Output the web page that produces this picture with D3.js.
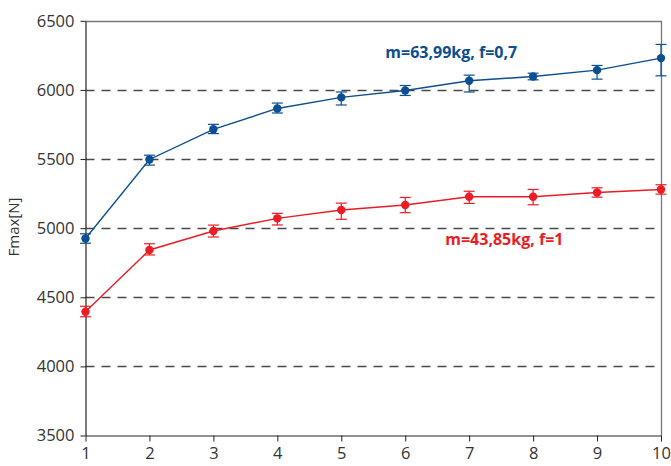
<!DOCTYPE html>
<html>
<head>
<meta charset="utf-8">
<script src="https://cdn.jsdelivr.net/npm/d3@7"></script>
<style>
  body { margin: 0; background: #fff; }
  svg { display: block; }
</style>
</head>
<body>
<div id="chart"></div>
<script>
const width = 671;
const height = 466;

const trials = [1, 2, 3, 4, 5, 6, 7, 8, 9, 10];
const yTicks = [3500, 4000, 4500, 5000, 5500, 6000, 6500];

// m=63,99kg, f=0,7
const blueValues = [4925, 5497, 5715, 5866, 5946, 5996, 6066, 6097, 6143, 6230];
const blueErrUp = [34, 31, 36, 39, 39, 36, 41, 24, 34, 99];
const blueErrDown = [34, 41, 31, 33, 55, 36, 81, 24, 65, 128];

// m=43,85kg, f=1
const redValues = [4395, 4842, 4979, 5071, 5131, 5167, 5227, 5227, 5258, 5280];
const redErrUp = [40, 45, 43, 36, 50, 55, 40, 53, 34, 34];
const redErrDown = [36, 36, 43, 48, 67, 55, 48, 58, 34, 34];

const blue = '#0c4e92';
const red = '#ec1c24';
const font = '"Open Sans", "Noto Sans", sans-serif';

const margin = { top: 20.8, right: 10, bottom: 30.5, left: 85.5 };

const x = d3.scaleLinear().domain([1, 10]).range([margin.left, width - margin.right]);
const y = d3.scaleLinear().domain([3500, 6500]).range([height - margin.bottom, margin.top]);

const svg = d3.select('#chart').append('svg')
  .attr('width', width)
  .attr('height', height);

// dashed gridlines
svg.append('g')
  .selectAll('line')
  .data(yTicks.filter(d => d > 3500 && d < 6500))
  .join('line')
  .attr('x1', x(1))
  .attr('x2', x(10))
  .attr('y1', d => Math.round(y(d)) + 0.5)
  .attr('y2', d => Math.round(y(d)) + 0.5)
  .attr('stroke', '#484848')
  .attr('stroke-width', 1.5)
  .attr('stroke-dasharray', '9,7');

// top and right frame
svg.append('path')
  .attr('d', `M${x(1)},${Math.round(y(6500)) + 0.5}H${Math.round(x(10)) + 0.5}V${y(3500)}`)
  .attr('fill', 'none')
  .attr('stroke', '#777')
  .attr('stroke-width', 1.3);

const xAxis = svg.append('g')
  .attr('transform', `translate(0,${y(3500)})`)
  .call(d3.axisBottom(x).tickValues(trials).tickFormat(d3.format('d')).tickSizeInner(6).tickSizeOuter(0).tickPadding(6));

const yAxis = svg.append('g')
  .attr('transform', `translate(${x(1)},0)`)
  .call(d3.axisLeft(y).tickValues(yTicks).tickFormat(d3.format('d')).tickSizeInner(5).tickSizeOuter(0).tickPadding(6));

[xAxis, yAxis].forEach(g => {
  g.select('.domain').attr('stroke', '#222').attr('stroke-width', 1.2);
  g.selectAll('.tick line').attr('stroke', '#222');
  g.selectAll('.tick text')
    .attr('fill', '#333')
    .style('font-family', font)
    .style('font-size', '16.5px');
});

svg.append('text')
  .attr('transform', `translate(19,227) rotate(-90)`)
  .attr('text-anchor', 'middle')
  .attr('fill', '#333')
  .style('font-family', font)
  .style('font-size', '15px')
  .text('Fmax[N]');

function drawSeries(values, errUp, errDown, color) {
  const g = svg.append('g');
  const line = d3.line()
    .x((d, i) => x(trials[i]))
    .y(d => y(d));

  g.append('path')
    .datum(values)
    .attr('d', line)
    .attr('fill', 'none')
    .attr('stroke', color)
    .attr('stroke-width', 1.4);

  const bars = g.selectAll('.err')
    .data(values)
    .join('g')
    .attr('class', 'err')
    .attr('stroke', color)
    .attr('stroke-width', 1.2);

  bars.append('line')
    .attr('x1', (d, i) => x(trials[i]))
    .attr('x2', (d, i) => x(trials[i]))
    .attr('y1', (d, i) => y(d + errUp[i]))
    .attr('y2', (d, i) => y(d - errDown[i]));

  bars.append('line')
    .attr('x1', (d, i) => x(trials[i]) - 5.5)
    .attr('x2', (d, i) => x(trials[i]) + 5.5)
    .attr('y1', (d, i) => y(d + errUp[i]))
    .attr('y2', (d, i) => y(d + errUp[i]));

  bars.append('line')
    .attr('x1', (d, i) => x(trials[i]) - 5.5)
    .attr('x2', (d, i) => x(trials[i]) + 5.5)
    .attr('y1', (d, i) => y(d - errDown[i]))
    .attr('y2', (d, i) => y(d - errDown[i]));

  g.selectAll('circle')
    .data(values)
    .join('circle')
    .attr('cx', (d, i) => x(trials[i]))
    .attr('cy', d => y(d))
    .attr('r', 4.2)
    .attr('fill', color);
}

drawSeries(blueValues, blueErrUp, blueErrDown, blue);
drawSeries(redValues, redErrUp, redErrDown, red);

svg.append('text')
  .attr('x', x(6.72))
  .attr('y', y(6232))
  .attr('text-anchor', 'middle')
  .attr('fill', blue)
  .style('font-family', font)
  .style('font-weight', 'bold')
  .style('font-size', '16px')
  .text('m=63,99kg, f=0,7');

svg.append('text')
  .attr('x', x(7.55))
  .attr('y', y(4876))
  .attr('text-anchor', 'middle')
  .attr('fill', red)
  .style('font-family', font)
  .style('font-weight', 'bold')
  .style('font-size', '16px')
  .text('m=43,85kg, f=1');
</script>
</body>
</html>
